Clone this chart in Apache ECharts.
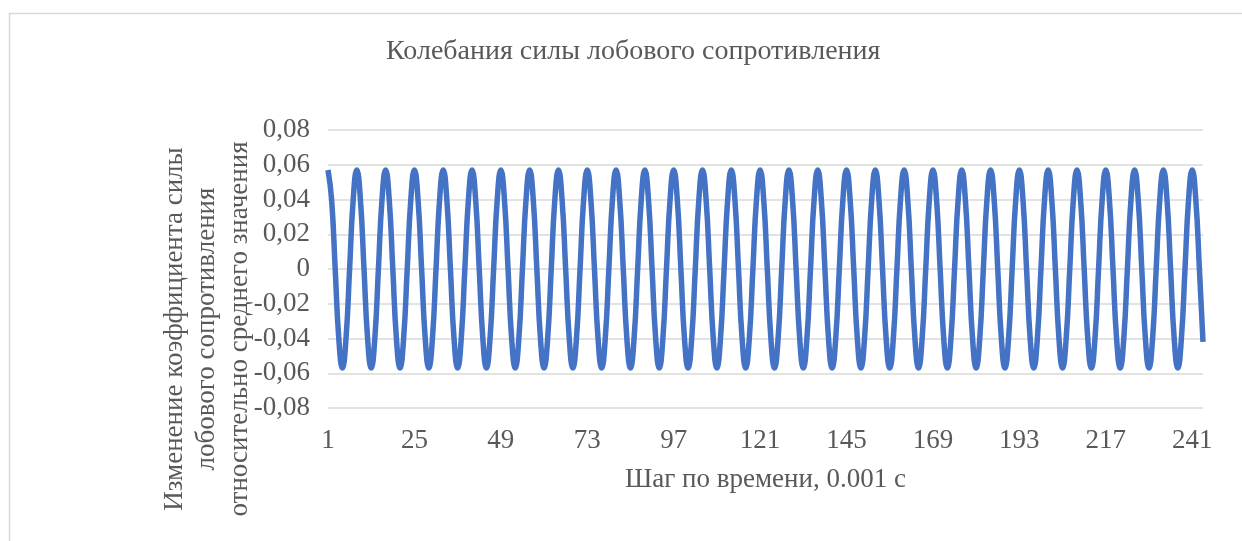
<!DOCTYPE html>
<html>
<head>
<meta charset="utf-8">
<script src="https://cdn.jsdelivr.net/npm/echarts@6/dist/echarts.min.js"></script>
<style>
html,body{margin:0;padding:0;background:#fff;}
#c{width:1242px;height:541px;}
</style>
</head>
<body>
<div id="c"></div>
<script>
const titleText = 'Колебания силы лобового сопротивления';
const xAxisName = 'Шаг по времени, 0.001 с';
const yAxisName = 'Изменение коэффициента силы\nлобового сопротивления\nотносительно среднего значения';
const yTicks = [-0.08, -0.06, -0.04, -0.02, 0, 0.02, 0.04, 0.06, 0.08];
const xLabelEvery = 24;

// Drag coefficient deviation, steps 1..244 (period of 8 steps)
const dragValues = [
  0.057, 0.040, 0.000, -0.040, -0.057, -0.040, 0.000, 0.040,
  0.057, 0.040, 0.000, -0.040, -0.057, -0.040, 0.000, 0.040,
  0.057, 0.040, 0.000, -0.040, -0.057, -0.040, 0.000, 0.040,
  0.057, 0.040, 0.000, -0.040, -0.057, -0.040, 0.000, 0.040,
  0.057, 0.040, 0.000, -0.040, -0.057, -0.040, 0.000, 0.040,
  0.057, 0.040, 0.000, -0.040, -0.057, -0.040, 0.000, 0.040,
  0.057, 0.040, 0.000, -0.040, -0.057, -0.040, 0.000, 0.040,
  0.057, 0.040, 0.000, -0.040, -0.057, -0.040, 0.000, 0.040,
  0.057, 0.040, 0.000, -0.040, -0.057, -0.040, 0.000, 0.040,
  0.057, 0.040, 0.000, -0.040, -0.057, -0.040, 0.000, 0.040,
  0.057, 0.040, 0.000, -0.040, -0.057, -0.040, 0.000, 0.040,
  0.057, 0.040, 0.000, -0.040, -0.057, -0.040, 0.000, 0.040,
  0.057, 0.040, 0.000, -0.040, -0.057, -0.040, 0.000, 0.040,
  0.057, 0.040, 0.000, -0.040, -0.057, -0.040, 0.000, 0.040,
  0.057, 0.040, 0.000, -0.040, -0.057, -0.040, 0.000, 0.040,
  0.057, 0.040, 0.000, -0.040, -0.057, -0.040, 0.000, 0.040,
  0.057, 0.040, 0.000, -0.040, -0.057, -0.040, 0.000, 0.040,
  0.057, 0.040, 0.000, -0.040, -0.057, -0.040, 0.000, 0.040,
  0.057, 0.040, 0.000, -0.040, -0.057, -0.040, 0.000, 0.040,
  0.057, 0.040, 0.000, -0.040, -0.057, -0.040, 0.000, 0.040,
  0.057, 0.040, 0.000, -0.040, -0.057, -0.040, 0.000, 0.040,
  0.057, 0.040, 0.000, -0.040, -0.057, -0.040, 0.000, 0.040,
  0.057, 0.040, 0.000, -0.040, -0.057, -0.040, 0.000, 0.040,
  0.057, 0.040, 0.000, -0.040, -0.057, -0.040, 0.000, 0.040,
  0.057, 0.040, 0.000, -0.040, -0.057, -0.040, 0.000, 0.040,
  0.057, 0.040, 0.000, -0.040, -0.057, -0.040, 0.000, 0.040,
  0.057, 0.040, 0.000, -0.040, -0.057, -0.040, 0.000, 0.040,
  0.057, 0.040, 0.000, -0.040, -0.057, -0.040, 0.000, 0.040,
  0.057, 0.040, 0.000, -0.040, -0.057, -0.040, 0.000, 0.040,
  0.057, 0.040, 0.000, -0.040, -0.057, -0.040, 0.000, 0.040,
  0.057, 0.040, 0.000, -0.042
];
const steps = dragValues.map((v, i) => String(i + 1));

const FONT = '"Liberation Serif", "DejaVu Serif", serif';
const FS = 27;
const chart = echarts.init(document.getElementById('c'));
chart.setOption({
  animation: false,
  backgroundColor: '#ffffff',
  graphic: [{
    type: 'rect', left: 7, top: 11, silent: true,
    shape: { width: 1300, height: 600 },
    style: { fill: 'none', stroke: '#d9d9d9', lineWidth: 1.5 }
  }],
  title: {
    text: titleText, left: 381, top: 33,
    textStyle: { fontFamily: FONT, fontSize: 28, fontWeight: 'normal', color: '#595959' }
  },
  grid: { left: 328, right: 39, top: 130, bottom: 133, containLabel: false },
  xAxis: {
    type: 'category', data: steps, boundaryGap: false,
    name: xAxisName, nameLocation: 'middle', nameGap: 58,
    nameTextStyle: { fontFamily: FONT, fontSize: FS, color: '#595959' },
    axisLine: { show: false }, axisTick: { show: false },
    axisLabel: {
      interval: (idx) => idx % xLabelEvery === 0,
      fontFamily: FONT, fontSize: FS, color: '#595959', margin: 19
    },
    splitLine: { show: false }
  },
  yAxis: {
    type: 'value', min: yTicks[0], max: yTicks[yTicks.length - 1], interval: 0.02,
    name: yAxisName, nameLocation: 'middle', nameGap: 72, nameRotate: 90,
    nameMoveOverlap: false,
    nameTextStyle: { fontFamily: FONT, fontSize: FS, color: '#595959', lineHeight: 32.5, align: 'center', padding: [0, 120, 0, 0] },
    axisLine: { show: false }, axisTick: { show: false },
    axisLabel: {
      fontFamily: FONT, fontSize: FS, color: '#595959', margin: 18,
      formatter: (v) => { const r = Math.round(v * 100) / 100; return r === 0 ? '0' : r.toFixed(2).replace('.', ','); }
    },
    splitLine: { lineStyle: { color: '#d9d9d9', width: 1.5 } }
  },
  series: [{
    type: 'line', data: dragValues, smooth: true, showSymbol: false,
    lineStyle: { color: '#4472c4', width: 5.5 }, itemStyle: { color: '#4472c4' }
  }]
});
</script>
</body>
</html>
